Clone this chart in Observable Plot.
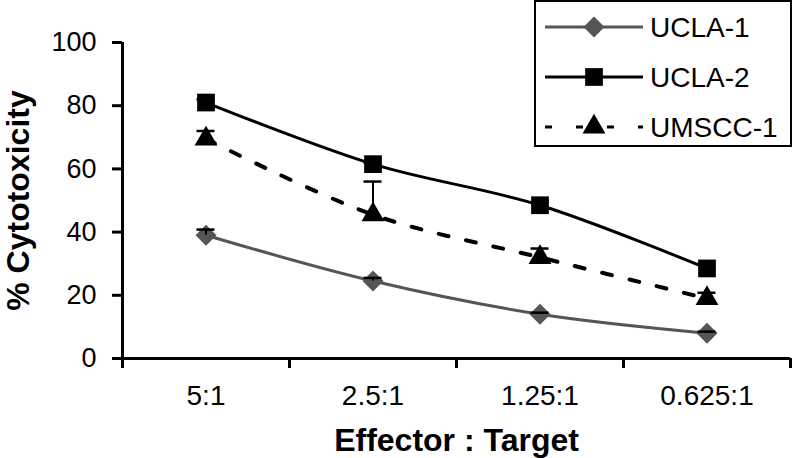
<!DOCTYPE html>
<html>
<head>
<meta charset="utf-8">
<script src="https://cdn.jsdelivr.net/npm/d3@7"></script>
<script src="https://cdn.jsdelivr.net/npm/@observablehq/plot@0.6"></script>
<style>
  body { margin: 0; background: #fff; }
  #wrap { position: relative; width: 796px; height: 458px; font-family: "Liberation Sans", Arial, sans-serif; }
  #legend { position: absolute; left: 0; top: 0; }
  [aria-label="y-axis label"] text, [aria-label="x-axis label"] text { font-weight: bold; font-size: 32px; }
</style>
</head>
<body>
<div id="wrap"></div>
<script>
// ---- data ----
const ratios = ["5:1", "2.5:1", "1.25:1", "0.625:1"];
const seriesNames = ["UCLA-1", "UCLA-2", "UMSCC-1"];
const ucla1 = [39, 24.5, 14, 8];
const ucla2 = [81, 61.5, 48.5, 28.5];
const umscc1 = [69.5, 45.5, 32, 19];
// upper end of the error bars
const ucla1Upper = [40.8, 25.5, 14.5, 8.5];
const ucla2Upper = [82, 62, 49.5, 30];
const umscc1Upper = [72, 56, 34.8, 20.8];
const yTicks = [0, 20, 40, 60, 80, 100];
const xAxisTitle = "Effector : Target";
const yAxisTitle = "% Cytotoxicity";

// ---- styles ----
const styles = {
  "UCLA-1": {color: "#555555", symbol: "square", rotate: 45, r: 8.4, dash: null, width: 3},
  "UCLA-2": {color: "#000000", symbol: "square", rotate: 0, r: 10, dash: null, width: 3},
  "UMSCC-1": {color: "#000000", symbol: "triangle", rotate: 0, r: 8.5, dash: "10,18", width: 4}
};

const values = {"UCLA-1": ucla1, "UCLA-2": ucla2, "UMSCC-1": umscc1};
const uppers = {"UCLA-1": ucla1Upper, "UCLA-2": ucla2Upper, "UMSCC-1": umscc1Upper};

const rows = seriesNames.flatMap(s => ratios.map((ratio, i) => ({
  series: s, ratio, pos: i + 0.5, value: values[s][i], upper: uppers[s][i]
})));

const marks = [];
for (const s of seriesNames) {
  const st = styles[s];
  const data = rows.filter(d => d.series === s);
  marks.push(Plot.line(data, {
    x: "pos", y: "value", stroke: st.color, strokeWidth: st.width,
    strokeDasharray: st.dash, curve: "catmull-rom"
  }));
}
for (const s of seriesNames) {
  const st = styles[s];
  const data = rows.filter(d => d.series === s);
  marks.push(Plot.dot(data, {
    x: "pos", y: "value", symbol: st.symbol, r: st.r, rotate: st.rotate,
    fill: st.color, stroke: "none"
  }));
}
// error bars
marks.push(Plot.ruleX(rows, {x: "pos", y1: "value", y2: "upper", stroke: "#000", strokeWidth: 2}));
marks.push(Plot.ruleY(rows, {y: "upper", x1: "pos", x2: "pos", insetLeft: -9, insetRight: -9, stroke: "#000", strokeWidth: 2.5}));

// axes
marks.push(Plot.axisY({
  ticks: yTicks, tickSize: 10, tickPadding: 16, fontSize: 27, strokeWidth: 3, color: "#000",
  label: yAxisTitle, labelAnchor: "center", labelOffset: 116, labelArrow: "none"
}));
marks.push(Plot.axisX({
  ticks: d3.range(ratios.length + 1), tickFormat: () => "", tickSize: 10, strokeWidth: 3, label: null
}));
marks.push(Plot.axisX({
  ticks: ratios.map((_, i) => i + 0.5), tickFormat: d => ratios[Math.floor(d)],
  tickSize: 0, tickPadding: 27, fontSize: 28, color: "#000",
  label: xAxisTitle, labelAnchor: "center", labelOffset: 92, labelArrow: "none"
}));
marks.push(Plot.ruleX([0], {stroke: "#000", strokeWidth: 3}));
marks.push(Plot.ruleY([0], {stroke: "#000", strokeWidth: 3}));

const chart = Plot.plot({
  width: 796,
  height: 458,
  marginLeft: 122,
  marginRight: 6,
  marginTop: 42,
  marginBottom: 100,
  style: {fontFamily: "Liberation Sans, Arial, sans-serif", color: "#000", background: "#fff"},
  x: {domain: [0, ratios.length]},
  y: {domain: [0, 100]},
  marks
});
document.getElementById("wrap").appendChild(chart);

// ---- legend (overlay inside the chart area, top right) ----
const lg = d3.select("#wrap").append("svg")
  .attr("id", "legend")
  .attr("width", 796).attr("height", 160)
  .style("pointer-events", "none");
lg.append("rect")
  .attr("x", 535).attr("y", 1).attr("width", 256).attr("height", 145)
  .attr("fill", "#fff").attr("stroke", "#000").attr("stroke-width", 2);
const symbolOf = {square: d3.symbolSquare, triangle: d3.symbolTriangle};
seriesNames.forEach((s, i) => {
  const st = styles[s];
  const cy = 27 + i * 50;
  lg.append("line")
    .attr("x1", 545).attr("x2", 643).attr("y1", cy).attr("y2", cy)
    .attr("stroke", st.color).attr("stroke-width", 3)
    .attr("stroke-dasharray", st.dash ? "7,24" : null);
  lg.append("path")
    .attr("d", d3.symbol(symbolOf[st.symbol], Math.PI * st.r * st.r)())
    .attr("transform", `translate(594,${cy}) rotate(${st.rotate})`)
    .attr("fill", st.color);
  lg.append("text")
    .attr("x", 650).attr("y", cy).attr("dy", "0.36em")
    .attr("font-family", "Liberation Sans, Arial, sans-serif")
    .attr("font-size", 28).attr("fill", "#000")
    .text(s);
});
</script>
</body>
</html>
